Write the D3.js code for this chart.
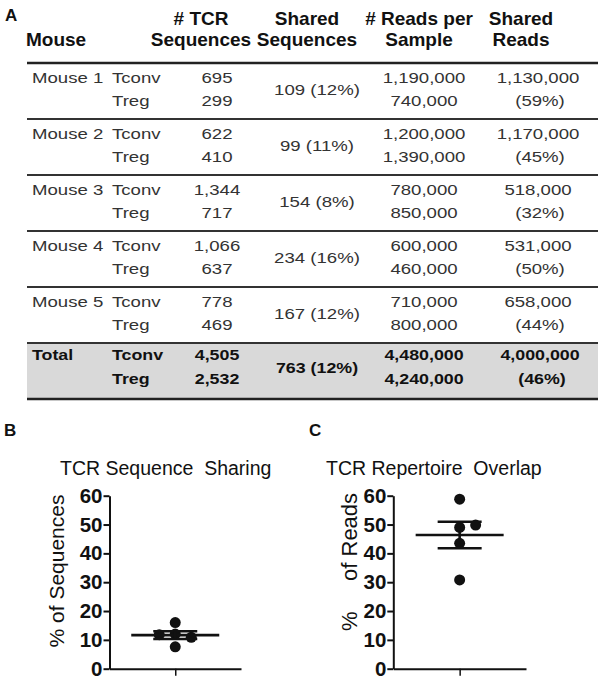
<!DOCTYPE html>
<html><head><meta charset="utf-8">
<script src="https://cdn.jsdelivr.net/npm/d3@7"></script>
<style>
body{margin:0;background:#fff;}
text{font-family:"Liberation Sans",Arial,sans-serif;white-space:pre;}
</style></head>
<body><svg id="c" width="612" height="680"></svg>
<script>
// ---------- Table data ----------
const headerLine1 = ["", "# TCR", "Shared", "# Reads per", "Shared"];
const headerLine2 = ["Mouse", "Sequences", "Sequences", "Sample", "Reads"];
const mice = ["Mouse 1", "Mouse 2", "Mouse 3", "Mouse 4", "Mouse 5"];
const cellTypes = ["Tconv", "Treg"];
const tconvSeqs = [695, 622, 1344, 1066, 778];
const tregSeqs = [299, 410, 717, 637, 469];
const sharedSeqs = [109, 99, 154, 234, 167];
const sharedSeqsPct = [12, 11, 8, 16, 12];
const tconvReads = [1190000, 1200000, 780000, 600000, 710000];
const tregReads = [740000, 1390000, 850000, 460000, 800000];
const sharedReads = [1130000, 1170000, 518000, 531000, 658000];
const sharedReadsPct = [59, 45, 32, 50, 44];
const totalLabel = "Total";
const totalSeqs = [4505, 2532];
const totalShared = 763, totalSharedPct = 12;
const totalReads = [4480000, 4240000];
const totalSharedReads = 4000000, totalSharedReadsPct = 46;

// ---------- Chart data ----------
const yTicks = [0, 10, 20, 30, 40, 50, 60];
const seqSharing = [12.0, 10.9, 7.6, 16.0, 11.8];
const repOverlap = [58.8, 49.0, 30.8, 49.8, 43.5];

const svg = d3.select("#c");
const fmt = d3.format(",");

function txt(g, x, y, s, anchor, sx) {
  return g.append("text").attr("transform", `translate(${x},${y}) scale(${sx},1)`)
    .attr("text-anchor", anchor || "start").text(s);
}

// ---------- Panel A: table ----------
const tbl = {left: 27, right: 598, top: 63, rowH: 56, totalH: 56};
const colMouseX = 32, colTypeX = 112;
const colCenters = [217, 317, 424, 538];
const headerCenters = [201, 307, 419, 521];

svg.append("text").attr("x", 5).attr("y", 21).text("A")
  .attr("font-weight", "bold").attr("font-size", 17).attr("fill", "#111");

const hdr = svg.append("g").attr("font-weight", "bold").attr("font-size", 19).attr("fill", "#111");
txt(hdr, 26, 46, headerLine2[0], "start", 1);
headerCenters.forEach((cx, i) => {
  txt(hdr, cx, 25, headerLine1[i + 1], "middle", 1);
  txt(hdr, cx, 46, headerLine2[i + 1], "middle", 1);
});

const totalTop = tbl.top + tbl.rowH * mice.length;
svg.append("rect").attr("x", tbl.left).attr("y", totalTop)
  .attr("width", tbl.right - tbl.left).attr("height", tbl.totalH).attr("fill", "#d9d9d9");

const hline = (y, w, c) => svg.append("line").attr("x1", tbl.left).attr("x2", tbl.right)
  .attr("y1", y).attr("y2", y).attr("stroke", c).attr("stroke-width", w);
hline(tbl.top, 2.5, "#222");
mice.forEach((m, i) => { if (i > 0) hline(tbl.top + tbl.rowH * i, 2, "#333"); });
hline(totalTop, 2, "#333");
hline(totalTop + tbl.totalH, 2.5, "#222");

const SX = 1.2;
const body = svg.append("g").attr("font-size", 15.5).attr("fill", "#333");
mice.forEach((m, i) => {
  const y0 = tbl.top + tbl.rowH * i;
  const b1 = y0 + 20, b2 = y0 + 43, bm = y0 + 32;
  txt(body, colMouseX, b1, m, "start", SX);
  txt(body, colTypeX, b1, cellTypes[0], "start", SX);
  txt(body, colTypeX, b2, cellTypes[1], "start", SX);
  txt(body, colCenters[0], b1, fmt(tconvSeqs[i]), "middle", SX);
  txt(body, colCenters[0], b2, fmt(tregSeqs[i]), "middle", SX);
  txt(body, colCenters[1], bm, `${sharedSeqs[i]} (${sharedSeqsPct[i]}%)`, "middle", SX);
  txt(body, colCenters[2], b1, fmt(tconvReads[i]), "middle", SX);
  txt(body, colCenters[2], b2, fmt(tregReads[i]), "middle", SX);
  txt(body, colCenters[3], b1, fmt(sharedReads[i]), "middle", SX);
  txt(body, colCenters[3] + 2, b2, `(${sharedReadsPct[i]}%)`, "middle", SX);
});
{
  const TS = 1.15;
  const tb = svg.append("g").attr("font-size", 15.5).attr("font-weight", "bold").attr("fill", "#111");
  const b1 = totalTop + 17, b2 = totalTop + 41, bm = totalTop + 30;
  txt(tb, colMouseX, b1, totalLabel, "start", TS);
  txt(tb, colTypeX, b1, cellTypes[0], "start", TS);
  txt(tb, colTypeX, b2, cellTypes[1], "start", TS);
  txt(tb, colCenters[0], b1, fmt(totalSeqs[0]), "middle", TS);
  txt(tb, colCenters[0], b2, fmt(totalSeqs[1]), "middle", TS);
  txt(tb, colCenters[1], bm, `${totalShared} (${totalSharedPct}%)`, "middle", TS);
  txt(tb, colCenters[2], b1, fmt(totalReads[0]), "middle", TS);
  txt(tb, colCenters[2], b2, fmt(totalReads[1]), "middle", TS);
  txt(tb, colCenters[3] + 2, b1, fmt(totalSharedReads), "middle", TS);
  txt(tb, colCenters[3] + 4, b2, `(${totalSharedReadsPct}%)`, "middle", TS);
}

// ---------- Panels B and C: scatter with mean ± SEM ----------
function scatterPanel(opts) {
  const {letter, letterX, axisX, axisRight, title, titleX, ylabel, ylabelX, ylabelSize, values} = opts;
  const y = d3.scaleLinear().domain([0, 60]).range([668.7, 495.7]);
  const x = d3.scalePoint().domain(["g"]).range([axisX, axisRight]).padding(0.5);
  const g = svg.append("g");

  g.append("text").attr("x", letterX).attr("y", 436).text(letter)
    .attr("font-weight", "bold").attr("font-size", 17).attr("fill", "#111");
  g.append("text").attr("x", titleX).attr("y", 475).text(title)
    .attr("font-size", 19.5).attr("fill", "#111");

  const ya = g.append("g").attr("transform", `translate(${axisX},0)`)
    .call(d3.axisLeft(y).tickValues(yTicks).tickSize(6).tickSizeOuter(0).tickPadding(1));
  ya.select(".domain").attr("stroke", "#111").attr("stroke-width", 2);
  ya.selectAll(".tick line").attr("stroke", "#111").attr("stroke-width", 2);
  ya.selectAll(".tick text").attr("font-family", "Liberation Sans, Arial, sans-serif")
    .attr("font-size", 20.5).attr("font-weight", "bold").attr("fill", "#111");

  const xa = g.append("g").attr("transform", `translate(0,${y(0)})`)
    .call(d3.axisBottom(x).tickSize(7).tickSizeOuter(0).tickFormat(""));
  xa.select(".domain").attr("stroke", "#111").attr("stroke-width", 2);
  xa.selectAll(".tick line").attr("stroke", "#111").attr("stroke-width", 1.5);

  g.append("text").attr("transform", `translate(${ylabelX},${opts.ylabelCY}) rotate(-90)`)
    .attr("text-anchor", "middle").attr("font-size", ylabelSize).attr("fill", "#111").text(ylabel);

  // mean and SEM
  const mean = d3.mean(values);
  const sem = d3.deviation(values) / Math.sqrt(values.length);
  const cx = x("g");
  const meanHalf = 44, errHalf = 22;
  const addLine = (x1, x2, y1, y2) => g.append("line").attr("x1", x1).attr("x2", x2)
    .attr("y1", y1).attr("y2", y2).attr("stroke", "#111").attr("stroke-width", 2.6);

  // simple swarm: slot offsets assigned to avoid overlapping dots
  const r = 5.5, step = 16;
  const slotOrder = [0, 1, -1, 2, -2, 3, -3];
  const placed = [];
  values.forEach(v => {
    const py = y(v);
    for (const s of slotOrder) {
      if (!placed.some(p => p.s === s && Math.abs(p.py - py) < 2 * r)) {
        placed.push({v, py, s});
        break;
      }
    }
  });
  g.selectAll("circle.dot").data(placed).join("circle").attr("class", "dot")
    .attr("cx", d => cx + d.s * step).attr("cy", d => d.py).attr("r", r).attr("fill", "#111");

  addLine(cx - meanHalf, cx + meanHalf, y(mean), y(mean));
  addLine(cx - errHalf, cx + errHalf, y(mean + sem), y(mean + sem));
  addLine(cx - errHalf, cx + errHalf, y(mean - sem), y(mean - sem));
  addLine(cx, cx, y(mean + sem), y(mean - sem));
}

scatterPanel({letter: "B", letterX: 4, axisX: 109.5, axisRight: 241, title: "TCR Sequence  Sharing", titleX: 60,
  ylabel: "% of Sequences", ylabelX: 64, ylabelCY: 571, ylabelSize: 21, values: seqSharing});
scatterPanel({letter: "C", letterX: 309, axisX: 393.3, axisRight: 526, title: "TCR Repertoire  Overlap", titleX: 326,
  ylabel: "%     of Reads", ylabelX: 357, ylabelCY: 562, ylabelSize: 22, values: repOverlap});
</script></body></html>
